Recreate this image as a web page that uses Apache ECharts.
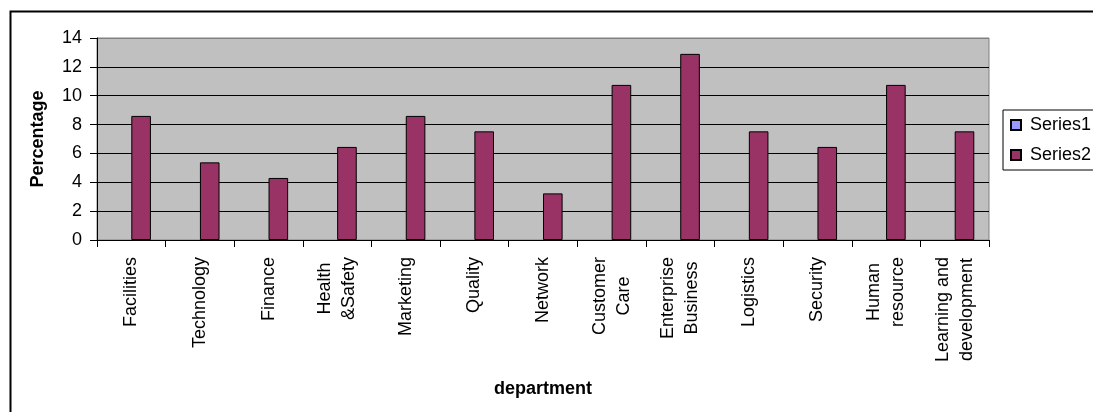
<!DOCTYPE html>
<html>
<head>
<meta charset="utf-8">
<script src="https://cdn.jsdelivr.net/npm/echarts@6/dist/echarts.min.js"></script>
<style>
html,body{margin:0;padding:0;background:#fff;}
#chart{width:1093px;height:412px;}
</style>
</head>
<body>
<div id="chart"></div>
<script>
const categories = ["Facilities", "Technology", "Finance", "Health\n&Safety", "Marketing", "Quality", "Network", "Customer\nCare", "Enterprise\nBusiness", "Logistics", "Security", "Human\nresource", "Learning and\ndevelopment"];
const series1Values = [null, null, null, null, null, null, null, null, null, null, null, null, null];
const series2Values = [8.6, 5.38, 4.3, 6.45, 8.6, 7.53, 3.23, 10.75, 12.9, 7.53, 6.45, 10.75, 7.53];
const yTicks = { min: 0, max: 14, interval: 2 };

const FONT = '"Liberation Sans", Arial, sans-serif';
const chart = echarts.init(document.getElementById('chart'), null, { renderer: 'canvas' });
chart.setOption({
  animation: false,
  backgroundColor: '#ffffff',
  textStyle: { fontFamily: FONT, color: '#000' },
  graphic: [{
    type: 'rect', left: 8, top: 9, silent: true, z: -10,
    shape: { width: 1200, height: 500 },
    style: { fill: 'none', stroke: '#000', lineWidth: 2 }
  }],
  grid: {
    left: 97, top: 38, right: 104, bottom: 172,
    show: true, backgroundColor: '#C0C0C0', borderColor: '#808080', borderWidth: 1
  },
  legend: {
    orient: 'vertical', left: 1003, top: 110,
    padding: [5, 20, 5, 7], itemGap: 10, itemWidth: 10, itemHeight: 10,
    borderColor: '#000', borderWidth: 1, backgroundColor: '#fff',
    icon: 'rect',
    textStyle: { fontFamily: FONT, fontSize: 18, lineHeight: 20, color: '#000', padding: [0, 0, 0, 4] },
    data: ['Series1', 'Series2']
  },
  xAxis: {
    type: 'category', data: categories,
    name: 'department', nameLocation: 'middle', nameGap: 140,
    nameTextStyle: { fontFamily: FONT, fontSize: 18, fontWeight: 'bold', color: '#000' },
    axisLine: { lineStyle: { color: '#000', width: 1 } },
    axisTick: { show: true, length: 7, alignWithLabel: false, lineStyle: { color: '#000' } },
    axisLabel: {
      rotate: 90, margin: 17, interval: 0, color: '#000', fontFamily: FONT, fontSize: 18, lineHeight: 24,
      formatter: v => v.split('\n').map(s => '{c|' + s + '}').join('\n'),
      rich: { c: { align: 'center', fontFamily: FONT, fontSize: 18, lineHeight: 24, color: '#000' } }
    },
    splitLine: { show: false }
  },
  yAxis: {
    type: 'value', min: yTicks.min, max: yTicks.max, interval: yTicks.interval,
    name: 'Percentage', nameLocation: 'middle', nameGap: 50,
    nameTextStyle: { fontFamily: FONT, fontSize: 18, fontWeight: 'bold', color: '#000' },
    axisLine: { show: true, lineStyle: { color: '#000', width: 1 } },
    axisTick: { show: true, length: 7, lineStyle: { color: '#000' } },
    axisLabel: { margin: 15, color: '#000', fontFamily: FONT, fontSize: 18 },
    splitLine: { show: true, lineStyle: { color: ['#000', '#000', '#000', '#000', '#000', '#000', '#000', '#808080'], width: 1 } }
  },
  series: [
    {
      name: 'Series1', type: 'bar', data: series1Values,
      barGap: '0%', barCategoryGap: '42.86%',
      itemStyle: { color: '#9999FF', borderColor: '#000', borderWidth: 1 }
    },
    {
      name: 'Series2', type: 'bar', data: series2Values,
      barGap: '0%', barCategoryGap: '42.86%',
      itemStyle: { color: '#993366', borderColor: '#000', borderWidth: 1 }
    }
  ]
});
</script>
</body>
</html>
